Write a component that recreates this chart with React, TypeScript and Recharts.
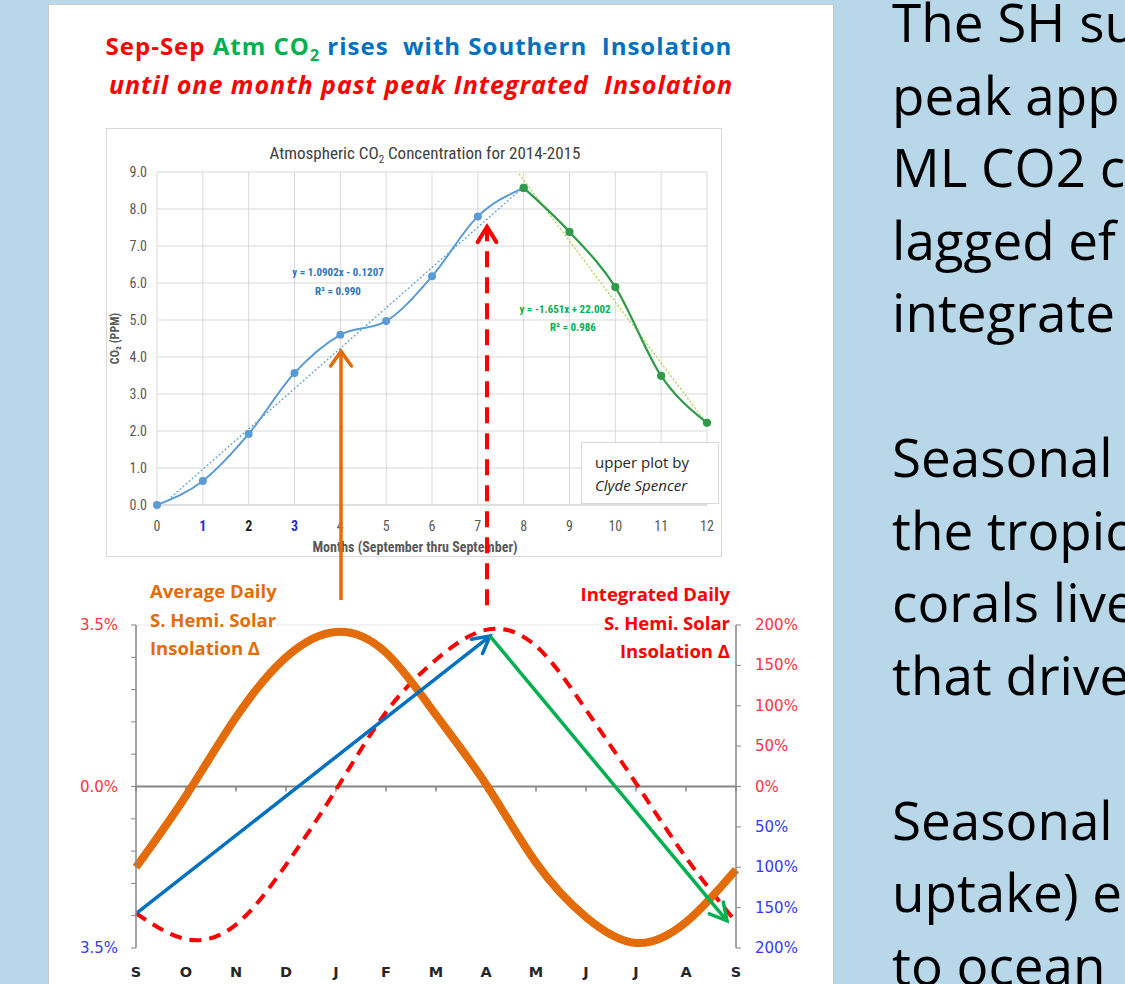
import React from 'react';
import { LineChart, Line, XAxis, YAxis, CartesianGrid, ReferenceLine, Label } from 'recharts';

// ---------- Upper chart (Atmospheric CO2, months Sep..Sep) ----------
const upperMonths = [0, 1, 2, 3, 4, 5, 6, 7, 8, 9, 10, 11, 12];
const co2Rise = [0.0, 0.65, 1.92, 3.57, 4.6, 4.97, 6.18, 7.8, 8.57, null, null, null, null];
const co2Fall = [null, null, null, null, null, null, null, null, 8.57, 7.38, 5.89, 3.49, 2.22];
const co2Ticks = [0, 1, 2, 3, 4, 5, 6, 7, 8, 9];
const riseTrend = [{ x: 0.3, y: 0.2 }, { x: 8, y: 8.6 }];
const fallTrend = [{ x: 7.9, y: 8.95 }, { x: 12, y: 2.19 }];

// ---------- Lower chart (S. Hemisphere insolation) ----------
const seasonLabels = ['S', 'O', 'N', 'D', 'J', 'F', 'M', 'A', 'M', 'J', 'J', 'A', 'S'];
const seasonIdx = [0, 1, 2, 3, 4, 5, 6, 7, 8, 9, 10, 11, 12];
const avgInsolation = [-1.75, -0.2, 1.5, 2.8, 3.35, 2.9, 1.55, 0.05, -1.65, -2.83, -3.39, -2.94, -1.8];
const intInsolation = [-157, -189, -171, -97, -4, 92, 157, 194, 174, 95, 4, -88, -168];
const leftTicks = [-3.5, -2.8, -2.1, -1.4, -0.7, 0, 0.7, 1.4, 2.1, 2.8, 3.5];
const leftLabelled = [3.5, 0, -3.5];
const rightTicks = [-200, -150, -100, -50, 0, 50, 100, 150, 200];
const blueArrow = [{ x: 0.02, y: -2.74 }, { x: 7.08, y: 3.26 }];
const greenArrow = [{ x: 7.08, y: 3.26 }, { x: 11.82, y: -2.91 }];
const orangeUp = [{ x: 4.1, y: 4.04 }, { x: 4.1, y: 9.43 }];
const redUp = [{ x: 7.02, y: 3.93 }, { x: 7.02, y: 12.13 }];

const rightTextLines = [
  'The SH su', 'peak app', 'ML CO2 c', 'lagged ef', 'integrate', '',
  'Seasonal', 'the tropic', 'corals live', 'that drive', '',
  'Seasonal', 'uptake) e', 'to ocean',
];

const upperRows = upperMonths.map((m, i) => ({ m, rise: co2Rise[i], fall: co2Fall[i] }));
const lowerRows = seasonIdx.map((i) => ({ i, avg: avgInsolation[i], intg: intInsolation[i] }));

const NARROW = "'Liberation Sans Narrow', 'Arial Narrow', 'Roboto Condensed', sans-serif";
const OPEN = "'Open Sans', Lato, sans-serif";
const WIDE = "'DejaVu Sans', Verdana, sans-serif";
const RED = '#ff3344';
const BLUE_TXT = '#3838ff';
const ORANGE = '#e36c09';

function arrowShape(color: string, width: number, dash?: string, headLen = 17, half = 0.6) {
  return (p: any) => {
    const { x1, y1, x2, y2 } = p;
    const ang = Math.atan2(y2 - y1, x2 - x1);
    const ax = x2 - headLen * Math.cos(ang - half);
    const ay = y2 - headLen * Math.sin(ang - half);
    const bx = x2 - headLen * Math.cos(ang + half);
    const by = y2 - headLen * Math.sin(ang + half);
    return (
      <g>
        <line x1={x1} y1={y1} x2={x2} y2={y2} stroke={color} strokeWidth={width} strokeDasharray={dash} />
        <polyline
          points={`${ax},${ay} ${x2},${y2} ${bx},${by}`}
          fill="none"
          stroke={color}
          strokeWidth={width}
          strokeLinecap="round"
          strokeLinejoin="miter"
        />
      </g>
    );
  };
}

function UpperXTick(props: any) {
  const { x, y, payload } = props;
  const v = payload.value;
  const blue = v === 1 || v === 3;
  const color = blue ? '#2b2bd0' : v === 2 ? '#222' : '#595959';
  return (
    <text x={x} y={y} dy={18} textAnchor="middle" fontSize={14} fontFamily={NARROW} fill={color} fontWeight={v >= 1 && v <= 3 ? 700 : 400}>
      {v}
    </text>
  );
}

function UpperYTick(props: any) {
  const { x, y, payload } = props;
  return (
    <text x={x} y={y} dy={5} textAnchor="end" fontSize={14} fontFamily={NARROW} fill="#595959">
      {payload.value.toFixed(1)}
    </text>
  );
}

function renderYLabel(p: any) {
  const vb = p.viewBox;
  const cx = vb.x + 13;
  const cy = vb.y + vb.height / 2;
  return (
    <text x={cx} y={cy} transform={`rotate(-90 ${cx} ${cy})`} textAnchor="middle" fontSize={12} fontFamily={NARROW} fontWeight={700} fill="#595959">
      CO₂ (PPM)
    </text>
  );
}

function LowerXTick(props: any) {
  const { x, y, payload } = props;
  return (
    <text x={x} y={y} dy={21} textAnchor="middle" fontSize={14.5} fontFamily={WIDE} fontWeight={700} fill="#262626">
      {seasonLabels[payload.value]}
    </text>
  );
}

function LeftTick(props: any) {
  const { x, y, payload } = props;
  const v = payload.value;
  if (!leftLabelled.some((t) => Math.abs(t - v) < 1e-6)) return null;
  return (
    <text x={x} y={y} dy={5} textAnchor="end" fontSize={15} fontFamily={WIDE} fill={v >= 0 ? RED : BLUE_TXT}>
      {Math.abs(v).toFixed(1)}%
    </text>
  );
}

function RightTick(props: any) {
  const { x, y, payload } = props;
  const v = payload.value;
  return (
    <text x={x} y={y} dy={5} textAnchor="start" fontSize={15} fontFamily={WIDE} fill={v >= 0 ? RED : BLUE_TXT}>
      {Math.abs(v)}%
    </text>
  );
}

const lineBox: React.CSSProperties = { display: 'inline-block', background: '#fff' };

export default function App() {
  return (
    <div style={{ position: 'fixed', left: 0, top: 0, width: 1125, height: 984, overflow: 'hidden', background: '#b8d8ea' }}>
      {/* white slide panel */}
      <div style={{ position: 'absolute', left: 48, top: 4, width: 784, height: 1000, background: '#fff', border: '1px solid #c9c9c9' }} />

      {/* header */}
      <div style={{ position: 'absolute', left: 60, top: 27, width: 730, textAlign: 'center', fontFamily: OPEN, fontWeight: 700, lineHeight: '38px', whiteSpace: 'pre', letterSpacing: 1 }}>
        <div style={{ fontSize: 24, position: 'relative', left: -6 }}>
          <span style={{ color: '#ff0000' }}>Sep-Sep </span>
          <span style={{ color: '#00b050' }}>Atm CO<sub style={{ fontSize: 16, lineHeight: 0 }}>2</sub></span>
          <span style={{ color: '#0070c0' }}> rises  with Southern  Insolation</span>
        </div>
        <div style={{ color: '#ff0000', fontStyle: 'italic', fontSize: 25, position: 'relative', left: -4 }}>until one month past peak Integrated  Insolation</div>
      </div>

      {/* upper chart box */}
      <div style={{ position: 'absolute', left: 106, top: 128, width: 614, height: 427, border: '1px solid #d9d9d9', background: '#fff' }} />
      <div style={{ position: 'absolute', left: 106, top: 143, width: 616, textAlign: 'center', fontFamily: NARROW, fontSize: 17, color: '#404040', whiteSpace: 'nowrap' }}>
        <span style={{ position: 'relative', left: 11 }}>
          Atmospheric CO<sub style={{ fontSize: 11 }}>2</sub> Concentration for 2014-2015
        </span>
      </div>
      <div style={{ position: 'absolute', left: 106, top: 128 }}>
        <LineChart width={616} height={429} data={upperRows} margin={{ top: 44, right: 15, left: 0, bottom: 0 }}>
          <CartesianGrid stroke="#d9d9d9" />
          <XAxis
            dataKey="m"
            type="number"
            domain={[0, 12]}
            ticks={upperMonths}
            height={52}
            tick={<UpperXTick />}
            tickLine={false}
            axisLine={{ stroke: '#d0d0d0' }}
          >
            <Label value="Months (September thru September)" position="insideBottom" offset={5} dx={-17} style={{ fontFamily: NARROW, fontSize: 14, fill: '#595959', fontWeight: 700 }} />
          </XAxis>
          <YAxis domain={[0, 9]} ticks={co2Ticks} width={51} tick={<UpperYTick />} tickLine={false} axisLine={false} tickMargin={4}>
            <Label content={renderYLabel} />
          </YAxis>
          <ReferenceLine segment={riseTrend} stroke="#5b9bd5" strokeWidth={1.2} strokeDasharray="2 2" ifOverflow="visible" />
          <ReferenceLine segment={fallTrend} stroke="#a5cf4c" strokeWidth={1.2} strokeDasharray="2 2" ifOverflow="visible" />
          <Line dataKey="rise" type="monotone" stroke="#5b9bd5" strokeWidth={2} dot={{ r: 3, fill: '#5b9bd5', stroke: '#5b9bd5' }} isAnimationActive={false} />
          <Line dataKey="fall" type="monotone" stroke="#2f9a48" strokeWidth={2.2} dot={{ r: 3, fill: '#2f9a48', stroke: '#2f9a48' }} isAnimationActive={false} />
        </LineChart>
      </div>

      {/* trendline equations */}
      <div style={{ position: 'absolute', left: 288, top: 263, width: 100, textAlign: 'center', fontFamily: NARROW, fontWeight: 700, fontSize: 11, lineHeight: '19px', color: '#2e75b6', whiteSpace: 'nowrap' }}>
        <div>y = 1.0902x - 0.1207</div>
        <div>R² = 0.990</div>
      </div>
      <div style={{ position: 'absolute', left: 515, top: 301, width: 100, textAlign: 'center', fontFamily: NARROW, fontWeight: 700, fontSize: 11, lineHeight: '18px', color: '#00b050', whiteSpace: 'nowrap' }}>
        <div>y = -1.651x + 22.002</div>
        <div style={{ position: 'relative', left: 8 }}>R² = 0.986</div>
      </div>

      {/* credit box */}
      <div style={{ position: 'absolute', left: 581, top: 442, width: 138, height: 62, border: '1px solid #d9d9d9', background: '#fff', fontFamily: OPEN, fontSize: 15, color: '#262626', lineHeight: '23px', boxSizing: 'border-box', paddingTop: 8, paddingLeft: 13, whiteSpace: 'nowrap' }}>
        <div>upper plot by</div>
        <div style={{ fontStyle: 'italic' }}>Clyde Spencer</div>
      </div>

      {/* lower chart */}
      <div style={{ position: 'absolute', left: 0, top: 200 }}>
        <LineChart width={830} height={784} data={lowerRows} margin={{ top: 425, right: 0, left: 0, bottom: 0 }}>
          <XAxis dataKey="i" type="number" domain={[0, 12]} ticks={seasonIdx} height={36} tick={<LowerXTick />} tickLine={false} axisLine={false} />
          <YAxis yAxisId="L" domain={[-3.5, 3.5]} ticks={leftTicks} width={136} tick={<LeftTick />} tickSize={5} tickMargin={13} tickLine={{ stroke: '#868686' }} axisLine={{ stroke: '#868686', strokeWidth: 1.5 }} />
          <YAxis yAxisId="R" orientation="right" domain={[-200, 200]} ticks={rightTicks} width={94} tick={<RightTick />} tickSize={5} tickMargin={14} tickLine={{ stroke: '#868686' }} axisLine={{ stroke: '#868686', strokeWidth: 1.5 }} />
          <ReferenceLine yAxisId="L" y={3.5} stroke="#efefef" strokeWidth={1.5} />
          <ReferenceLine yAxisId="L" y={0} stroke="#868686" strokeWidth={2} />
          {seasonIdx.map((i) => (
            <ReferenceLine key={i} yAxisId="L" segment={[{ x: i, y: 0 }, { x: i, y: -0.11 }]} stroke="#868686" strokeWidth={1.5} ifOverflow="visible" />
          ))}
          <Line yAxisId="R" dataKey="intg" type="natural" stroke="#ff0000" strokeWidth={4} strokeDasharray="12 8" dot={false} isAnimationActive={false} />
          <Line yAxisId="L" dataKey="avg" type="natural" stroke={ORANGE} strokeWidth={8} dot={false} isAnimationActive={false} />
          <ReferenceLine yAxisId="L" segment={blueArrow} ifOverflow="visible" shape={arrowShape('#0070c0', 3.5, undefined, 19, 0.5)} />
          <ReferenceLine yAxisId="L" segment={greenArrow} ifOverflow="visible" shape={arrowShape('#00b050', 3.5, undefined, 19, 0.5)} />
          <ReferenceLine yAxisId="L" segment={orangeUp} ifOverflow="visible" shape={arrowShape(ORANGE, 3.5, undefined, 18, 0.62)} />
          <ReferenceLine yAxisId="L" segment={redUp} ifOverflow="visible" shape={arrowShape('#ff0000', 4, '16 10', 18, 0.55)} />
        </LineChart>
      </div>

      {/* lower chart annotations (text boxes with white fill) */}
      <div style={{ position: 'absolute', left: 150, top: 577, fontFamily: OPEN, fontWeight: 700, fontSize: 18.5, lineHeight: '28.5px', color: ORANGE, whiteSpace: 'nowrap' }}>
        <div><span style={lineBox}>Average Daily</span></div>
        <div><span style={lineBox}>S. Hemi. Solar</span></div>
        <div><span style={lineBox}>Insolation Δ</span></div>
      </div>
      <div style={{ position: 'absolute', left: 530, top: 580, width: 200, textAlign: 'right', fontFamily: OPEN, fontWeight: 700, fontSize: 18.5, lineHeight: '28.5px', color: '#ff0000', whiteSpace: 'nowrap' }}>
        <div><span style={lineBox}>Integrated Daily</span></div>
        <div><span style={lineBox}>S. Hemi. Solar</span></div>
        <div><span style={lineBox}>Insolation Δ</span></div>
      </div>

      {/* right-hand slide text, clipped by the page edge as in the slide */}
      <div style={{ position: 'absolute', left: 892, top: -14, fontFamily: "'Open Sans', sans-serif", fontSize: 53, lineHeight: '72.5px', color: '#000', whiteSpace: 'pre' }}>
        {rightTextLines.map((t, k) => (
          <div key={k} style={{ height: 72.5 }}>{t}</div>
        ))}
      </div>
    </div>
  );
}
